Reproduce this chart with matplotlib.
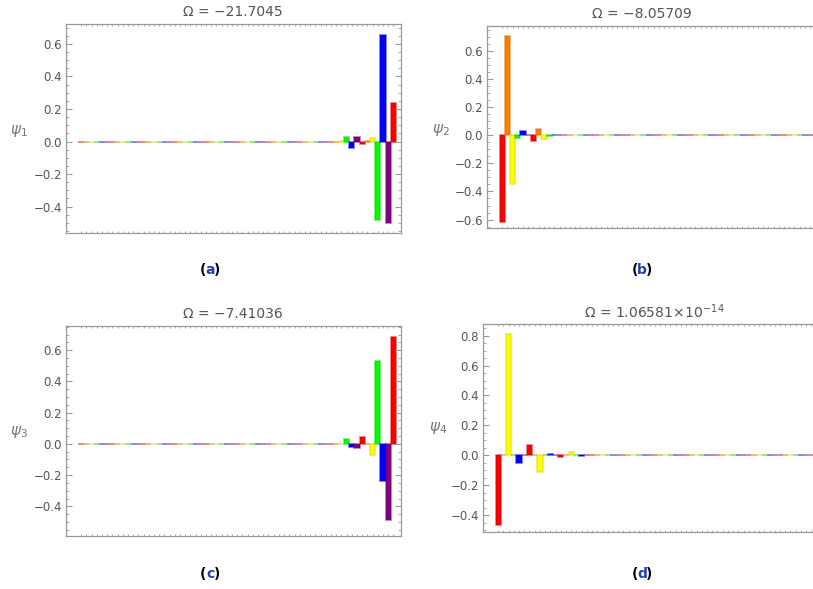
import matplotlib
matplotlib.use("Agg")
import matplotlib.pyplot as plt
import numpy as np
from matplotlib.ticker import MultipleLocator, FuncFormatter
from matplotlib.colors import to_rgb

N = 61
sites = list(range(N))
cycle_colors = ["#FF0000", "#FF8000", "#FFFF00", "#00FF00", "#0000FF", "#800080"]

def tail(vals):
    return [0.0] * (N - len(vals)) + vals

def head(vals):
    return vals + [0.0] * (N - len(vals))

psi1 = tail([0.004, 0.026, -0.038, 0.027, -0.015, 0.004, 0.02, -0.483, 0.655, -0.5, 0.235])
psi2 = head([-0.617, 0.706, -0.348, -0.019, 0.03, 0.003, -0.043, 0.043, -0.024, -0.004])
psi3 = tail([0.002, 0.034, -0.017, -0.028, 0.043, 0.002, -0.073, 0.53, -0.24, -0.49, 0.685])
psi4 = head([-0.463, 0.0, 0.81, 0.0, -0.054, 0.0, 0.069, 0.0, -0.114, 0.0, 0.011, 0.0,
             -0.011, 0.0, 0.02, 0.0, -0.003, 0.0, 0.004])

titles = ["Ω = −21.7045", "Ω = −8.05709", "Ω = −7.41036", r"Ω = 1.06581$\!\times\!$10$^{-14}$"]
ylabels = [r"$\psi_1$", r"$\psi_2$", r"$\psi_3$", r"$\psi_4$"]
letters = ["a", "b", "c", "d"]
series = [psi1, psi2, psi3, psi4]

W, H = 813, 589
fig = plt.figure(figsize=(W / 100, H / 100), dpi=100)

# axes boxes in pixels: left, top, right, bottom
boxes = [(66, 24, 401, 233), (487, 26, 823, 228), (66, 326, 401, 536), (483, 324, 819, 532)]
ylims = [(-0.563, 0.723), (-0.66, 0.777), (-0.59, 0.755), (-0.513, 0.878)]
title_x = [233, 642, 233, 654]
ylabel_pos = [(19, 131), (441, 130), (19, 432), (438, 428)]
letter_pos = [(210, 270), (642, 270), (210, 574), (642, 574)]

frame_col = "#9a9a9a"
text_col = "#555555"

def fmt(v, pos):
    s = "%.1f" % v
    if s == "-0.0":
        s = "0.0"
    return s.replace("-", "\u2212")

def edge(c):
    r, g, b = to_rgb(c)
    return (r * 0.85, g * 0.85, b * 0.85, 0.5)

facecols = [cycle_colors[i % 6] for i in sites]
edgecols = [edge(c) for c in facecols]

for k in range(4):
    l, t, r, b = boxes[k]
    ax = fig.add_axes([l / W, 1 - b / H, (r - l) / W, (b - t) / H])
    ax.bar(sites, series[k], width=1.0, color=facecols, edgecolor=edgecols, linewidth=1.3)
    ax.set_xlim(-2.9, 61.46)
    ax.set_ylim(*ylims[k])
    for sp in ax.spines.values():
        sp.set_color(frame_col)
        sp.set_linewidth(0.9)
    ax.yaxis.set_major_locator(MultipleLocator(0.2))
    ax.yaxis.set_minor_locator(MultipleLocator(0.05))
    ax.yaxis.set_major_formatter(FuncFormatter(fmt))
    ax.set_xticks(sites, minor=True)
    ax.set_xticks([])
    ax.tick_params(axis="y", which="major", direction="in", length=4, width=0.8,
                   color=frame_col, labelcolor=text_col, labelsize=8.5, right=True, pad=3)
    ax.tick_params(axis="y", which="minor", direction="in", length=2, width=0.6,
                   color=frame_col, right=True)
    ax.tick_params(axis="x", which="minor", direction="in", length=1.5, width=0.6,
                   color=frame_col, top=True, bottom=True)
    fig.text(title_x[k] / W, 1 - (t - 12) / H, titles[k], ha="center", va="center",
             fontsize=10, color=text_col)
    lx, ly = ylabel_pos[k]
    fig.text(lx / W, 1 - ly / H, ylabels[k], ha="center", va="center",
             fontsize=11, color="#777777")
    px, py = letter_pos[k]
    fig.text((px - 7) / W, 1 - py / H, "(", ha="center", va="center",
             fontsize=10, fontweight="bold", color="black")
    fig.text(px / W, 1 - py / H, letters[k], ha="center", va="center",
             fontsize=10, fontweight="bold", color="#1f3fbf")
    fig.text((px + 7) / W, 1 - py / H, ")", ha="center", va="center",
             fontsize=10, fontweight="bold", color="black")

fig.savefig("out.png", dpi=100)
